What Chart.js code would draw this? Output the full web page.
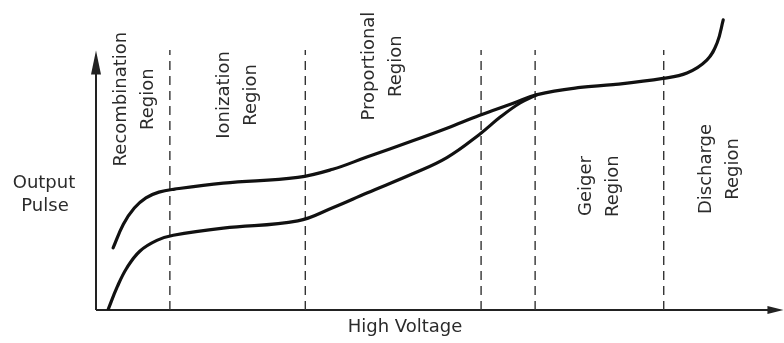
<!DOCTYPE html>
<html>
<head>
<title>Gas Detector Regions</title>
<script src="https://cdn.jsdelivr.net/npm/chart.js"></script>
<style>
body { margin: 0; background: #fff; }
canvas { display: block; }
</style>
</head>
<body>
<canvas id="regionChart" width="784" height="343"></canvas>
<script>
// curve values (x = high voltage, y = output pulse, arbitrary units 0-100)
const upperX = [2.5, 4.0, 5.6, 7.3, 9.2, 11.5, 18.6, 29.5, 34.6, 39.6, 46.3, 51.3, 56.1, 61.0, 64.5, 70.8, 75.6, 82.9, 86.4, 89.3, 90.8, 91.7];
const upperY = [20.7, 28.6, 34.0, 37.4, 39.3, 40.3, 42.3, 44.2, 46.9, 51.0, 56.4, 60.6, 64.9, 68.9, 71.8, 74.2, 75.1, 77.2, 79.0, 83.3, 89.0, 96.7];
const lowerX = [1.8, 3.1, 4.5, 6.4, 8.9, 11.3, 18.6, 29.5, 34.6, 39.6, 46.3, 51.3, 56.1, 59.1, 62.0, 64.5];
const lowerY = [0.3, 7.7, 14.0, 19.6, 23.2, 24.9, 27.3, 29.7, 34.1, 39.0, 45.4, 50.8, 58.6, 64.3, 69.0, 71.8];

// region boundaries (dashed lines)
const boundaries = [10.8, 30.6, 56.3, 64.2, 83.0];
const boundaryTop = 86.7;

// region names
const regionNames = [
  ['Recombination', 'Region'],
  ['Ionization', 'Region'],
  ['Proportional', 'Region'],
  ['Geiger', 'Region'],
  ['Discharge', 'Region']
];

// where each rotated label block is centred (data units)
const regionLabelX = [5.7, 20.8, 41.9, 73.7, 91.2];
const regionLabelY = [70.3, 71.7, 81.3, 41.3, 47.0];

const yAxisTop = 86.5;
const xAxisEnd = 100.5;
const textColor = '#2b2b2b';
const font = '18px "DejaVu Sans", sans-serif';

function toPoints(xs, ys) {
  return xs.map((x, i) => ({ x: x, y: ys[i] }));
}

const datasets = [
  {
    data: toPoints(upperX, upperY),
    borderColor: '#111',
    borderWidth: 3.2,
    borderCapStyle: 'round',
    showLine: true,
    pointRadius: 0,
    tension: 0.4
  },
  {
    data: toPoints(lowerX, lowerY),
    borderColor: '#111',
    borderWidth: 3.2,
    borderCapStyle: 'round',
    showLine: true,
    pointRadius: 0,
    tension: 0.4
  }
];
boundaries.forEach(b => {
  datasets.push({
    data: [{ x: b, y: 0 }, { x: b, y: boundaryTop }],
    borderColor: '#333',
    borderWidth: 1.4,
    borderDash: [9, 6],
    showLine: true,
    pointRadius: 0
  });
});

const decor = {
  id: 'decor',
  beforeDatasetsDraw(chart) {
    const c = chart.ctx;
    const xs = chart.scales.x, ys = chart.scales.y;
    const x0 = xs.getPixelForValue(0), y0 = ys.getPixelForValue(0);
    const yt = ys.getPixelForValue(yAxisTop), xe = xs.getPixelForValue(xAxisEnd);
    c.save();
    c.strokeStyle = '#222';
    c.fillStyle = '#222';
    c.lineWidth = 2;
    c.beginPath();
    c.moveTo(x0, y0); c.lineTo(x0, yt + 10);
    c.moveTo(x0, y0); c.lineTo(xe - 10, y0);
    c.stroke();
    // arrow heads
    c.beginPath();
    c.moveTo(x0, yt); c.lineTo(x0 - 5, yt + 24); c.lineTo(x0 + 5, yt + 24); c.closePath();
    c.fill();
    c.beginPath();
    c.moveTo(xe, y0); c.lineTo(xe - 16, y0 - 4); c.lineTo(xe - 16, y0 + 4); c.closePath();
    c.fill();
    c.restore();
  },
  afterDraw(chart) {
    const c = chart.ctx;
    const xs = chart.scales.x, ys = chart.scales.y;
    c.save();
    c.fillStyle = textColor;
    c.font = font;
    c.textAlign = 'center';
    c.textBaseline = 'middle';
    regionNames.forEach((lines, i) => {
      const px = xs.getPixelForValue(regionLabelX[i]);
      const py = ys.getPixelForValue(regionLabelY[i]);
      c.save();
      c.translate(px, py);
      c.rotate(-Math.PI / 2);
      const gap = 27;
      lines.forEach((t, j) => {
        c.fillText(t, 0, (j - (lines.length - 1) / 2) * gap);
      });
      c.restore();
    });
    // axis titles
    c.fillText('Output', 44, 183);
    c.fillText('Pulse', 45, 206);
    c.fillText('High Voltage', 405, 327);
    c.restore();
  }
};

new Chart(document.getElementById('regionChart'), {
  type: 'scatter',
  data: { datasets: datasets },
  options: {
    responsive: false,
    animation: false,
    layout: { padding: { left: 96, right: 4, top: 10, bottom: 33 } },
    plugins: {
      legend: { display: false },
      tooltip: { enabled: false }
    },
    scales: {
      x: { type: 'linear', min: 0, max: 100, display: false },
      y: { type: 'linear', min: 0, max: 100, display: false }
    }
  },
  plugins: [decor]
});
</script>
</body>
</html>
